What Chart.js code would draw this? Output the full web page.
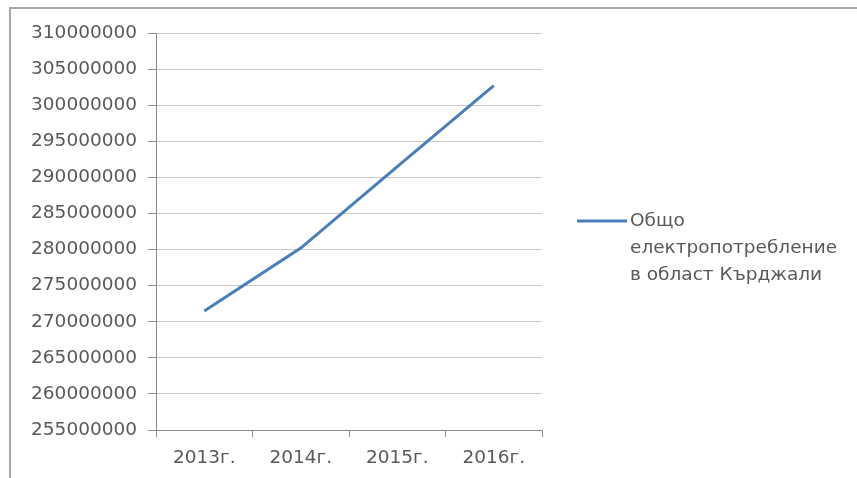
<!DOCTYPE html>
<html>
<head>
<meta charset="utf-8">
<script src="https://cdn.jsdelivr.net/npm/chart.js@4/dist/chart.umd.min.js"></script>
<style>
  html, body { margin: 0; padding: 0; background: #fff; }
  #wrap { width: 857px; height: 478px; position: relative; }
</style>
</head>
<body>
<div id="wrap"><canvas id="chart"></canvas></div>
<script>
const years = ['2013г.', '2014г.', '2015г.', '2016г.'];
const consumption = [271500000, 280200000, 291500000, 302700000];
const seriesLabel = ['Общо', 'електропотребление', 'в област Кърджали'];
const yMin = 255000000;
const yMax = 310000000;
const yStep = 5000000;

const lineColor = '#4a7ebb';
const textColor = '#595959';
const gridColor = '#c8c8c8';
const fontFamily = "'DejaVu Sans', 'Open Sans', sans-serif";

// outer frame of the chart object
const framePlugin = {
  id: 'frame',
  beforeDraw(chart) {
    const ctx = chart.ctx;
    ctx.save();
    ctx.fillStyle = '#fff';
    ctx.fillRect(0, 0, chart.width, chart.height);
    ctx.strokeStyle = '#a6a6a6';
    ctx.lineWidth = 2;
    ctx.strokeRect(10, 8, chart.width, chart.height);
    ctx.restore();
  },
};

// legend on the right, text wraps over three lines
const sideLegend = {
  id: 'sideLegend',
  afterDraw(chart) {
    const ctx = chart.ctx;
    const ds = chart.data.datasets[0];
    const x = 577;
    const y = 221;
    ctx.save();
    ctx.strokeStyle = ds.borderColor;
    ctx.lineWidth = 3;
    ctx.beginPath();
    ctx.moveTo(x, y);
    ctx.lineTo(x + 50, y);
    ctx.stroke();
    ctx.fillStyle = textColor;
    ctx.font = '18.5px ' + fontFamily;
    ctx.textBaseline = 'middle';
    ds.label.forEach((line, i) => ctx.fillText(line, x + 53, y + i * 27));
    ctx.restore();
  },
};

new Chart(document.getElementById('chart'), {
  type: 'line',
  data: {
    labels: years,
    datasets: [
      {
        label: seriesLabel,
        data: consumption,
        borderColor: lineColor,
        borderWidth: 3,
        pointRadius: 0,
        tension: 0,
      },
    ],
  },
  options: {
    responsive: true,
    maintainAspectRatio: false,
    animation: false,
    layout: { padding: { left: 0, top: 33, right: 315, bottom: 0 } },
    plugins: {
      legend: { display: false },
      tooltip: { enabled: false },
    },
    scales: {
      x: {
        offset: true,
        grid: {
          offset: true,
          drawOnChartArea: false,
          color: '#8c8c8c',
          tickLength: 7,
        },
        border: { color: '#8c8c8c' },
        ticks: {
          color: textColor,
          font: { family: fontFamily, size: 18.5 },
          padding: 10,
        },
        afterFit(scale) { scale.height = 48; },
      },
      y: {
        min: yMin,
        max: yMax,
        grid: { color: gridColor, tickLength: 8, tickColor: '#8c8c8c' },
        border: { color: '#8c8c8c' },
        ticks: {
          stepSize: yStep,
          color: textColor,
          font: { family: fontFamily, size: 18.5 },
          padding: 11,
          callback: (v) => String(v),
        },
        afterFit(scale) { scale.width = 156; },
      },
    },
  },
  plugins: [framePlugin, sideLegend],
});
</script>
</body>
</html>
